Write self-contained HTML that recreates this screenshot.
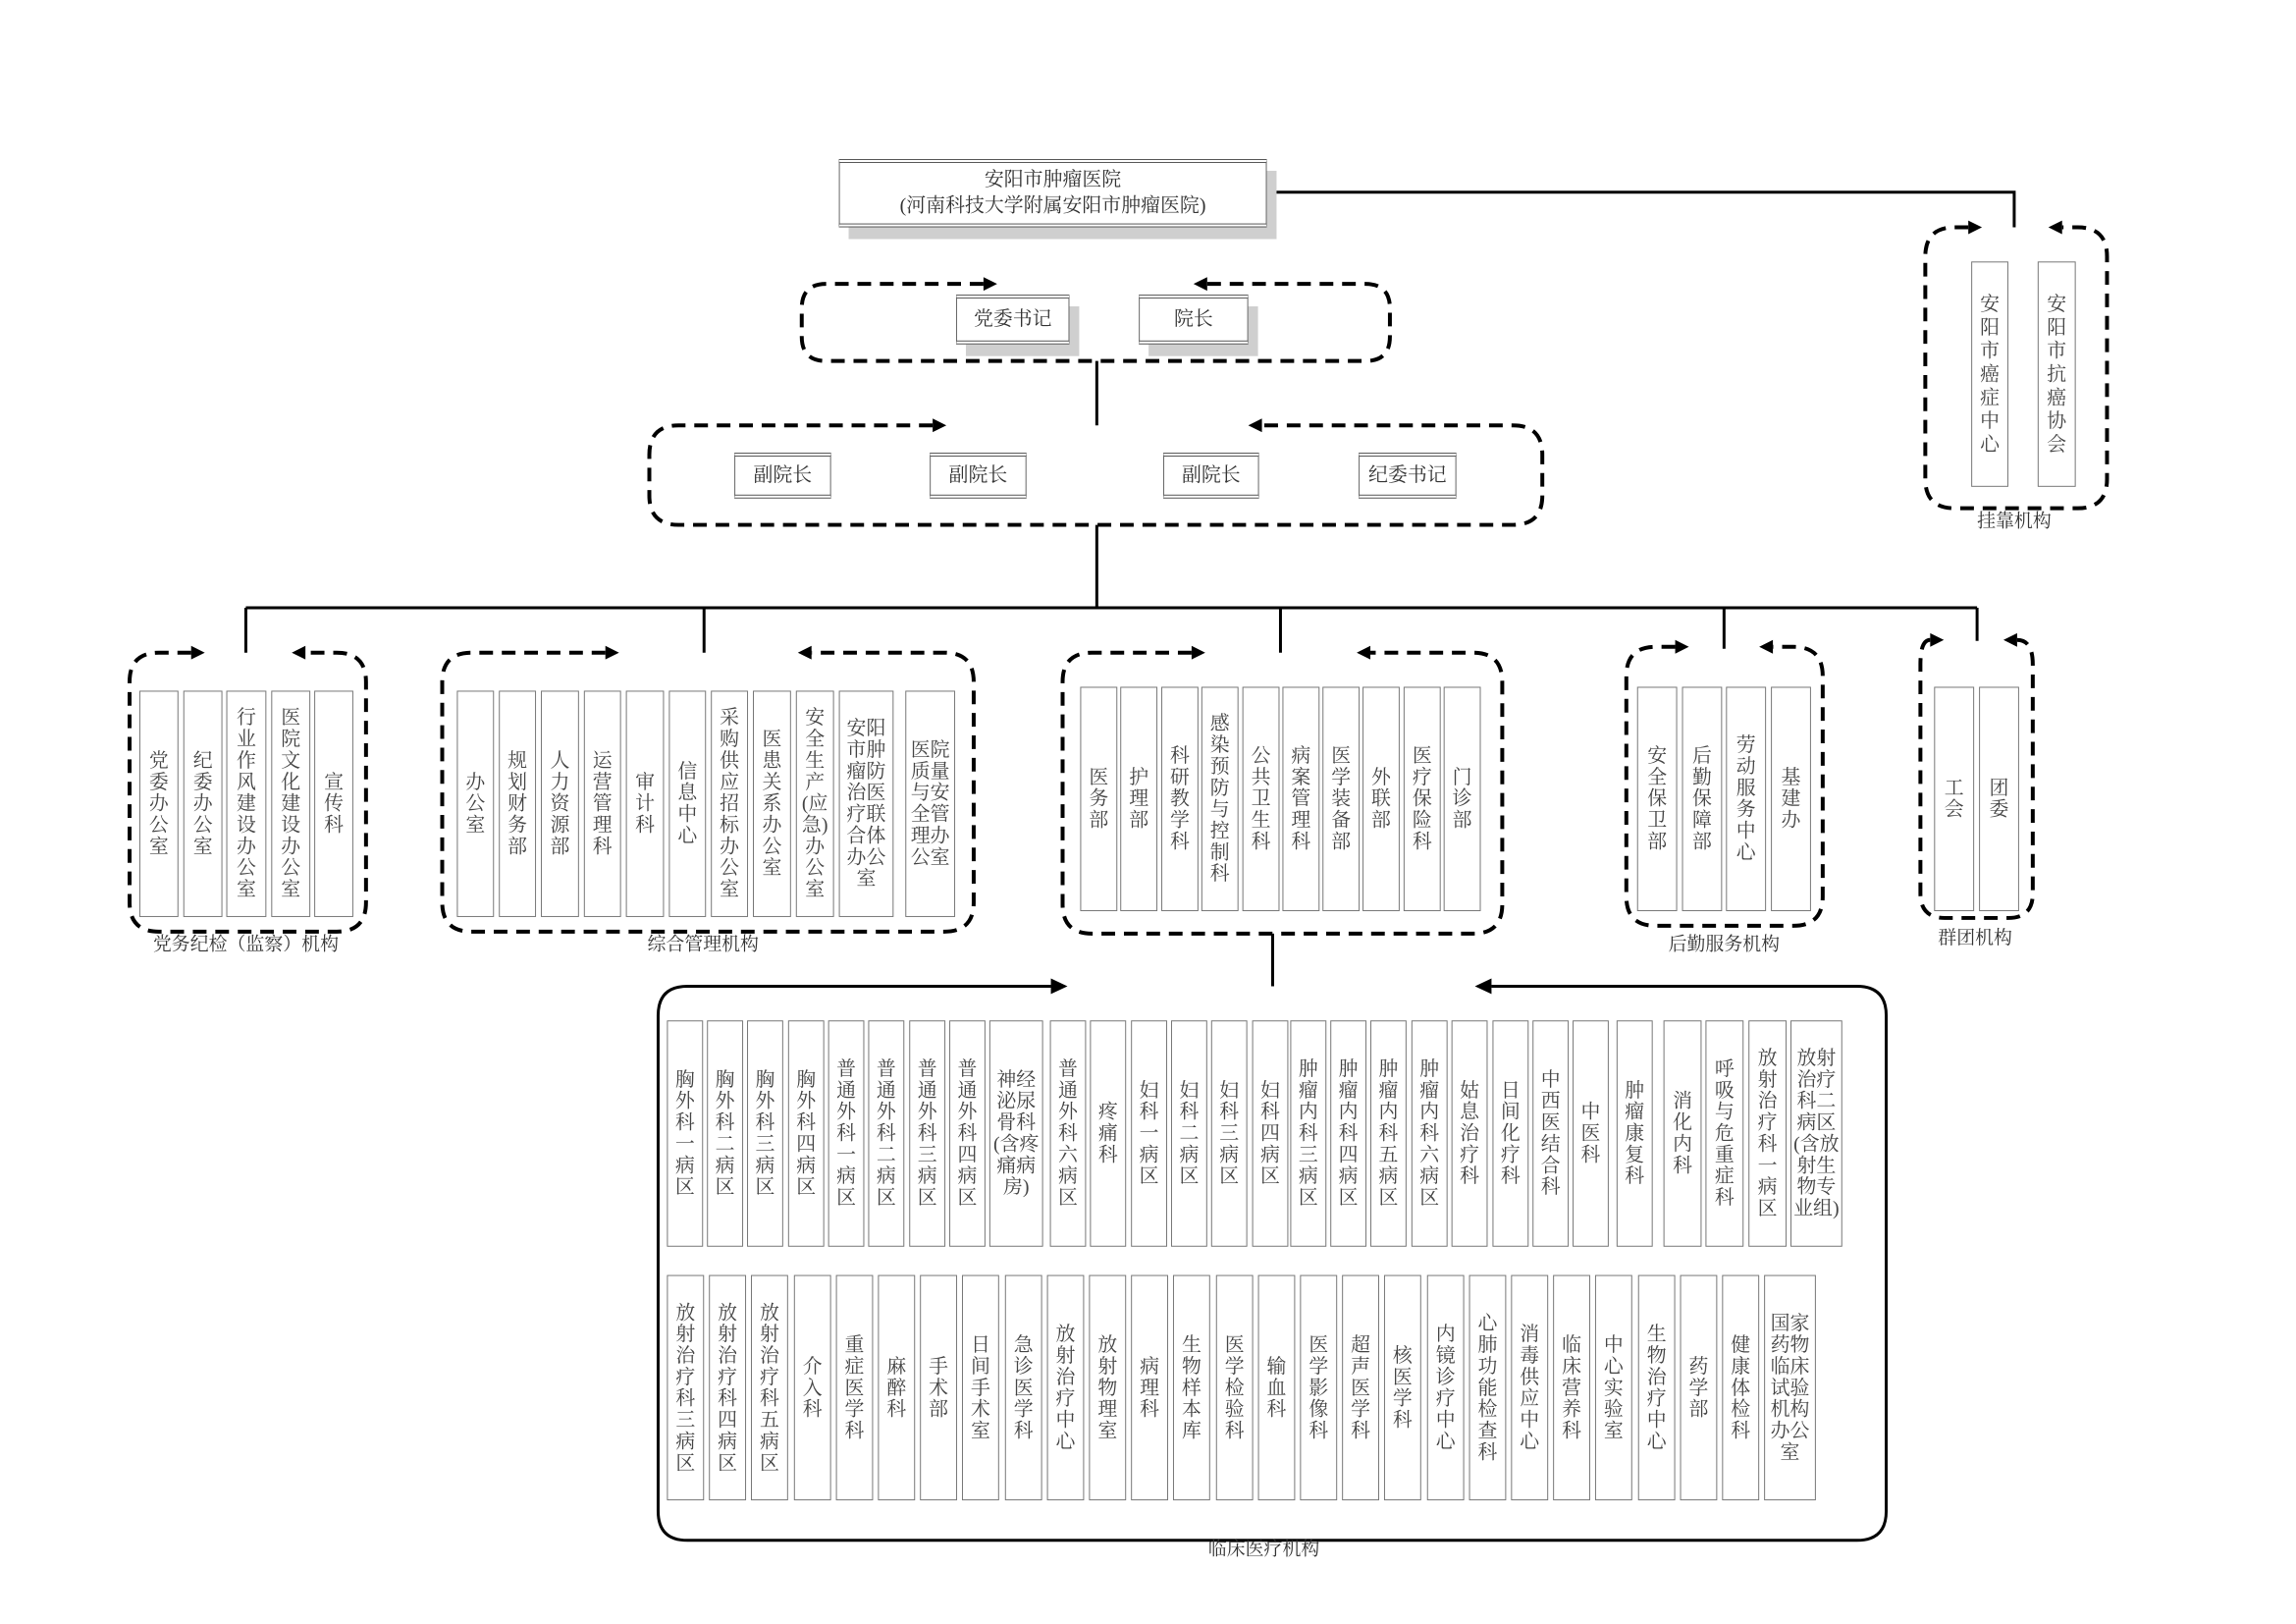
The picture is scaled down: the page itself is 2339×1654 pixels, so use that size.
<!DOCTYPE html>
<html><head><meta charset="utf-8">
<style>
html,body{margin:0;padding:0;background:#fff;}
body{width:2339px;height:1654px;position:relative;overflow:hidden;font-family:"Liberation Serif","Noto Serif CJK SC","Noto Sans CJK SC",serif;color:#333;}
#w{position:absolute;left:0;top:0;width:2339px;height:1654px;transform-origin:132px 162px;transform:scale(0.9953,0.9935);}
.b{position:absolute;border:1.5px solid #777;box-sizing:border-box;display:flex;align-items:center;justify-content:center;background:#fff;}
.b span{display:block;width:1em;font-size:20px;line-height:22px;word-break:break-all;text-align:center;color:#444;}
.b.w span{width:2.4em;}
.b.m span{width:1.4em;}
.ga{top:707px;height:232px;}
.gc{top:703px;height:230px;}
.r1{top:1045px;height:232px;}
.r2{top:1306px;height:231px;}
.hg{top:267px;height:231px;}
.hg span{line-height:24px;}
.t{position:absolute;border:1.5px solid #666;border-top:4px double #555;border-bottom:4px double #555;box-sizing:border-box;background:#fff;box-shadow:10px 12px 0 #cfcfcf;display:flex;align-items:center;justify-content:center;font-size:20px;color:#333;text-align:center;line-height:27px;}
.t2{box-shadow:none;}
.lb{position:absolute;font-size:19px;color:#333;transform:translateX(-50%);white-space:nowrap;}
svg{position:absolute;left:0;top:0;}
</style></head><body><div id="w">
<svg width="2339" height="1654" viewBox="0 0 2339 1654">
<g fill="none" stroke="#000" stroke-width="3">
<path d="M1296 196 H2061 V232"/>
<path d="M1122 369 V435"/>
<path d="M1122 537 V622"/>
<path d="M251 622 H2023"/>
<path d="M251 622 V668 M720 622 V668 M1310 622 V668 M1764 622 V664 M2023 622 V656"/>
<path d="M1302 956 V1010"/>
<path d="M1075 1010 H703 Q673 1010 673 1040 V1548 Q673 1578 703 1578 H1900 Q1930 1578 1930 1548 V1040 Q1930 1010 1900 1010 H1526"/>
</g>
<g fill="none" stroke="#000" stroke-width="4" stroke-dasharray="14 9">
<path d="M2014 232 H2000 Q1970 232 1970 262 V490 Q1970 520 2000 520 H2126 Q2156 520 2156 490 V262 Q2156 232 2126 232 H2110"/>
<path d="M1006 290 H845 Q820 290 820 315 V344 Q820 369 845 369 H1397 Q1422 369 1422 344 V315 Q1422 290 1397 290 H1235"/>
<path d="M954 435 H694 Q664 435 664 465 V507 Q664 537 694 537 H1548 Q1578 537 1578 507 V465 Q1578 435 1548 435 H1291"/>
<path d="M195 668 H162 Q132 668 132 698 V924 Q132 954 162 954 H344 Q374 954 374 924 V698 Q374 668 344 668 H312"/>
<path d="M619 668 H482 Q452 668 452 698 V924 Q452 954 482 954 H966 Q996 954 996 924 V698 Q996 668 966 668 H830"/>
<path d="M1219 668 H1117 Q1087 668 1087 698 V926 Q1087 956 1117 956 H1507 Q1537 956 1537 926 V698 Q1537 668 1507 668 H1402"/>
<path d="M1714 662 H1694 Q1664 662 1664 692 V918 Q1664 948 1694 948 H1835 Q1865 948 1865 918 V692 Q1865 662 1835 662 H1814"/>
<path d="M1975 655 Q1965 655 1965 680 V915 Q1965 940 1990 940 H2055 Q2080 940 2080 915 V680 Q2080 655 2064 655"/>
</g>
<g fill="#000">
<polygon points="2014,225 2028,232 2014,239"/><polygon points="2110,225 2096,232 2110,239"/>
<polygon points="1006,283 1020,290 1006,297"/><polygon points="1235,283 1221,290 1235,297"/>
<polygon points="954,428 968,435 954,442"/><polygon points="1291,428 1277,435 1291,442"/>
<polygon points="195,661 209,668 195,675"/><polygon points="312,661 298,668 312,675"/>
<polygon points="619,661 633,668 619,675"/><polygon points="830,661 816,668 830,675"/>
<polygon points="1219,661 1233,668 1219,675"/><polygon points="1402,661 1388,668 1402,675"/>
<polygon points="1714,655 1728,662 1714,669"/><polygon points="1814,655 1800,662 1814,669"/>
<polygon points="1975,648 1989,655 1975,662"/><polygon points="2064,648 2050,655 2064,662"/>
<polygon points="1075,1002 1092,1010 1075,1018"/><polygon points="1526,1002 1509,1010 1526,1018"/>
</g>
</svg>

<div class="t" style="left:858px;top:162px;width:438px;height:70px;">安阳市肿瘤医院<br>(河南科技大学附属安阳市肿瘤医院)</div>
<div class="t" style="left:978px;top:301px;width:116px;height:51px;">党委书记</div>
<div class="t" style="left:1165px;top:301px;width:112px;height:51px;">院长</div>
<div class="t t2" style="left:751px;top:463px;width:99px;height:47px;">副院长</div>
<div class="t t2" style="left:951px;top:463px;width:99px;height:47px;">副院长</div>
<div class="t t2" style="left:1190px;top:463px;width:98px;height:47px;">副院长</div>
<div class="t t2" style="left:1390px;top:463px;width:100px;height:47px;">纪委书记</div>

<div class="b hg" style="left:2017px;width:38px;"><span>安阳市癌症中心</span></div>
<div class="b hg" style="left:2085px;width:39px;"><span>安阳市抗癌协会</span></div>
<div class="lb" style="left:2061px;top:518px;">挂靠机构</div>

<div class="b ga" style="left:142px;width:40px;"><span>党委办公室</span></div>
<div class="b ga" style="left:187px;width:40px;"><span>纪委办公室</span></div>
<div class="b ga" style="left:231px;width:41px;"><span>行业作风建设办公室</span></div>
<div class="b ga" style="left:277px;width:40px;"><span>医院文化建设办公室</span></div>
<div class="b ga" style="left:321px;width:40px;"><span>宣传科</span></div>
<div class="lb" style="left:251px;top:952px;">党务纪检（监察）机构</div>

<div class="b ga" style="left:467px;width:38px;"><span>办公室</span></div>
<div class="b ga" style="left:510px;width:38px;"><span>规划财务部</span></div>
<div class="b ga" style="left:553px;width:39px;"><span>人力资源部</span></div>
<div class="b ga" style="left:597px;width:38px;"><span>运营管理科</span></div>
<div class="b ga" style="left:640px;width:39px;"><span>审计科</span></div>
<div class="b ga" style="left:684px;width:38px;"><span>信息中心</span></div>
<div class="b ga" style="left:727px;width:38px;"><span>采购供应招标办公室</span></div>
<div class="b ga" style="left:770px;width:39px;"><span>医患关系办公室</span></div>
<div class="b ga m" style="left:814px;width:39px;"><span>安全生产(应急)办公室</span></div>
<div class="b ga w" style="left:858px;width:56px;"><span>安阳市肿瘤防治医疗联合体办公室</span></div>
<div class="b ga w" style="left:926px;width:51px;"><span>医院质量与安全管理办公室</span></div>
<div class="lb" style="left:719px;top:952px;">综合管理机构</div>

<div class="b gc" style="left:1105px;width:38px;"><span>医务部</span></div>
<div class="b gc" style="left:1146px;width:38px;"><span>护理部</span></div>
<div class="b gc" style="left:1188px;width:38px;"><span>科研教学科</span></div>
<div class="b gc" style="left:1229px;width:38px;"><span>感染预防与控制科</span></div>
<div class="b gc" style="left:1271px;width:38px;"><span>公共卫生科</span></div>
<div class="b gc" style="left:1312px;width:38px;"><span>病案管理科</span></div>
<div class="b gc" style="left:1353px;width:38px;"><span>医学装备部</span></div>
<div class="b gc" style="left:1394px;width:38px;"><span>外联部</span></div>
<div class="b gc" style="left:1436px;width:38px;"><span>医疗保险科</span></div>
<div class="b gc" style="left:1477px;width:38px;"><span>门诊部</span></div>

<div class="b gc" style="left:1675px;width:41px;"><span>安全保卫部</span></div>
<div class="b gc" style="left:1721px;width:41px;"><span>后勤保障部</span></div>
<div class="b gc" style="left:1766px;width:41px;"><span>劳动服务中心</span></div>
<div class="b gc" style="left:1812px;width:41px;"><span>基建办</span></div>
<div class="lb" style="left:1764px;top:952px;">后勤服务机构</div>

<div class="b gc" style="left:1979px;width:41px;"><span>工会</span></div>
<div class="b gc" style="left:2025px;width:41px;"><span>团委</span></div>
<div class="lb" style="left:2021px;top:945px;">群团机构</div>

<div class="b r1" style="left:682px;width:37px;"><span>胸外科一病区</span></div>
<div class="b r1" style="left:723px;width:37px;"><span>胸外科二病区</span></div>
<div class="b r1" style="left:764px;width:37px;"><span>胸外科三病区</span></div>
<div class="b r1" style="left:806px;width:37px;"><span>胸外科四病区</span></div>
<div class="b r1" style="left:847px;width:37px;"><span>普通外科一病区</span></div>
<div class="b r1" style="left:888px;width:37px;"><span>普通外科二病区</span></div>
<div class="b r1" style="left:930px;width:37px;"><span>普通外科三病区</span></div>
<div class="b r1" style="left:971px;width:37px;"><span>普通外科四病区</span></div>
<div class="b r1 w" style="left:1012px;width:55px;"><span>神经泌尿骨科(含疼痛病房)</span></div>
<div class="b r1" style="left:1074px;width:37px;"><span>普通外科六病区</span></div>
<div class="b r1" style="left:1115px;width:37px;"><span>疼痛科</span></div>
<div class="b r1" style="left:1157px;width:37px;"><span>妇科一病区</span></div>
<div class="b r1" style="left:1198px;width:37px;"><span>妇科二病区</span></div>
<div class="b r1" style="left:1239px;width:37px;"><span>妇科三病区</span></div>
<div class="b r1" style="left:1281px;width:37px;"><span>妇科四病区</span></div>
<div class="b r1" style="left:1320px;width:37px;"><span>肿瘤内科三病区</span></div>
<div class="b r1" style="left:1361px;width:37px;"><span>肿瘤内科四病区</span></div>
<div class="b r1" style="left:1402px;width:37px;"><span>肿瘤内科五病区</span></div>
<div class="b r1" style="left:1444px;width:37px;"><span>肿瘤内科六病区</span></div>
<div class="b r1" style="left:1485px;width:37px;"><span>姑息治疗科</span></div>
<div class="b r1" style="left:1527px;width:37px;"><span>日间化疗科</span></div>
<div class="b r1" style="left:1568px;width:37px;"><span>中西医结合科</span></div>
<div class="b r1" style="left:1609px;width:37px;"><span>中医科</span></div>
<div class="b r1" style="left:1654px;width:37px;"><span>肿瘤康复科</span></div>
<div class="b r1" style="left:1702px;width:39px;"><span>消化内科</span></div>
<div class="b r1" style="left:1745px;width:39px;"><span>呼吸与危重症科</span></div>
<div class="b r1" style="left:1789px;width:39px;"><span>放射治疗科一病区</span></div>
<div class="b r1 w" style="left:1832px;width:53px;"><span>放射治疗科二病区(含放射生物专业组)</span></div>

<div class="b r2" style="left:682px;width:38px;"><span>放射治疗科三病区</span></div>
<div class="b r2" style="left:725px;width:38px;"><span>放射治疗科四病区</span></div>
<div class="b r2" style="left:768px;width:38px;"><span>放射治疗科五病区</span></div>
<div class="b r2" style="left:812px;width:38px;"><span>介入科</span></div>
<div class="b r2" style="left:855px;width:38px;"><span>重症医学科</span></div>
<div class="b r2" style="left:898px;width:38px;"><span>麻醉科</span></div>
<div class="b r2" style="left:941px;width:38px;"><span>手术部</span></div>
<div class="b r2" style="left:984px;width:38px;"><span>日间手术室</span></div>
<div class="b r2" style="left:1028px;width:38px;"><span>急诊医学科</span></div>
<div class="b r2" style="left:1071px;width:38px;"><span>放射治疗中心</span></div>
<div class="b r2" style="left:1114px;width:38px;"><span>放射物理室</span></div>
<div class="b r2" style="left:1157px;width:38px;"><span>病理科</span></div>
<div class="b r2" style="left:1200px;width:38px;"><span>生物样本库</span></div>
<div class="b r2" style="left:1244px;width:38px;"><span>医学检验科</span></div>
<div class="b r2" style="left:1287px;width:38px;"><span>输血科</span></div>
<div class="b r2" style="left:1330px;width:38px;"><span>医学影像科</span></div>
<div class="b r2" style="left:1373px;width:38px;"><span>超声医学科</span></div>
<div class="b r2" style="left:1416px;width:38px;"><span>核医学科</span></div>
<div class="b r2" style="left:1460px;width:38px;"><span>内镜诊疗中心</span></div>
<div class="b r2" style="left:1503px;width:38px;"><span>心肺功能检查科</span></div>
<div class="b r2" style="left:1546px;width:38px;"><span>消毒供应中心</span></div>
<div class="b r2" style="left:1589px;width:38px;"><span>临床营养科</span></div>
<div class="b r2" style="left:1632px;width:38px;"><span>中心实验室</span></div>
<div class="b r2" style="left:1676px;width:38px;"><span>生物治疗中心</span></div>
<div class="b r2" style="left:1719px;width:38px;"><span>药学部</span></div>
<div class="b r2" style="left:1762px;width:38px;"><span>健康体检科</span></div>
<div class="b r2 w" style="left:1805px;width:53px;"><span>国家药物临床试验机构办公室</span></div>
<div class="lb" style="left:1293px;top:1572px;">临床医疗机构</div>
</div></body></html>
